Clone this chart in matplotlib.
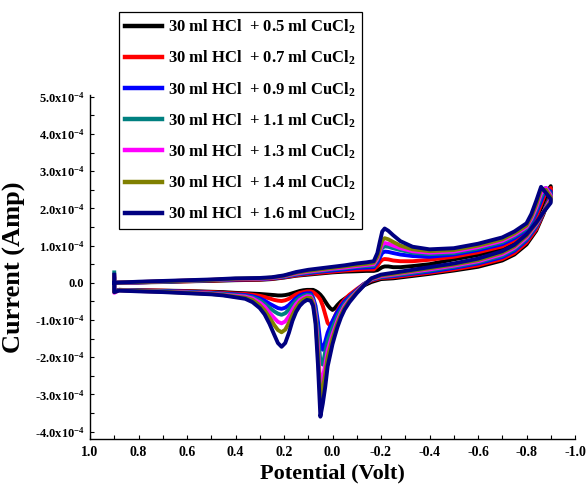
import matplotlib
matplotlib.use("Agg")
import matplotlib.pyplot as plt
from matplotlib.ticker import FixedLocator, MultipleLocator
import numpy as np

plt.rcParams['font.family'] = ['Liberation Serif', 'DejaVu Serif']
plt.rcParams['font.weight'] = 'bold'
plt.rcParams['mathtext.fontset'] = 'custom'
plt.rcParams['mathtext.rm'] = 'Liberation Serif:bold'
plt.rcParams['mathtext.bf'] = 'Liberation Serif:bold'
plt.rcParams['mathtext.it'] = 'Liberation Serif:bold:italic'
plt.rcParams['mathtext.default'] = 'rm'

# ---------------- data (current in units of 1e-4 A) ----------------
volumes = ["0.5", "0.7", "0.9", "1.1", "1.3", "1.4", "1.6"]
colors = ["#000000", "#ff0000", "#0000ff", "#008080", "#ff00ff", "#808000", "#000080"]

# forward (lower) branch potentials, V
E_lower = [0.90, 0.90, 0.88, 0.80, 0.70, 0.60, 0.50, 0.45, 0.40,
           0.36, 0.33, 0.30, 0.28, 0.26, 0.24, 0.225, 0.21, 0.195, 0.18, 0.165, 0.15, 0.135, 0.12, 0.105, 0.09,
           0.08, 0.07, 0.06, 0.05, 0.04, 0.03, 0.02, 0.01, 0.0, -0.01, -0.02, -0.035, -0.05, -0.07, -0.10, -0.13, -0.16, -0.20,
           -0.25, -0.30, -0.40, -0.50, -0.60, -0.70, -0.75, -0.80, -0.84, -0.87, -0.90]

# reverse (upper) branch potentials, V
E_upper = [-0.90, -0.88, -0.86, -0.84, -0.82, -0.80, -0.75, -0.70, -0.60, -0.50,
           -0.40, -0.33, -0.28, -0.25, -0.23, -0.215, -0.205, -0.195, -0.185, -0.17,
           -0.14, -0.10, -0.05, 0.0, 0.05, 0.10, 0.15, 0.20, 0.25, 0.30,
           0.40, 0.50, 0.60, 0.70, 0.80, 0.90]

lower_05 = [0.10, -0.22, -0.19, -0.20, -0.21, -0.22, -0.24, -0.25, -0.27,
            -0.28, -0.29, -0.30, -0.31, -0.32, -0.33, -0.34, -0.34, -0.33, -0.31, -0.28, -0.25, -0.22, -0.20, -0.19, -0.19,
            -0.19, -0.22, -0.26, -0.32, -0.40, -0.50, -0.60, -0.68, -0.73, -0.68, -0.60, -0.50, -0.43, -0.34, -0.20, -0.07, 0.02, 0.10,
            0.12, 0.16, 0.24, 0.33, 0.43, 0.60, 0.76, 1.03, 1.40, 1.85, 2.40]
lower_07 = [0.12, -0.22, -0.19, -0.20, -0.21, -0.23, -0.25, -0.27, -0.29,
            -0.30, -0.32, -0.35, -0.38, -0.42, -0.46, -0.48, -0.49, -0.47, -0.43, -0.37, -0.31, -0.27, -0.25, -0.23, -0.23,
            -0.25, -0.30, -0.36, -0.45, -0.62, -0.85, -1.08, -1.15, -1.05, -0.90, -0.75, -0.58, -0.45, -0.32, -0.17, -0.03, 0.06, 0.13,
            0.15, 0.19, 0.27, 0.36, 0.47, 0.64, 0.80, 1.08, 1.44, 1.88, 2.35]
lower_09 = [0.15, -0.23, -0.19, -0.21, -0.22, -0.24, -0.27, -0.29, -0.31,
            -0.33, -0.36, -0.42, -0.48, -0.56, -0.63, -0.68, -0.70, -0.67, -0.60, -0.50, -0.41, -0.34, -0.30, -0.28, -0.28,
            -0.40, -0.62, -1.05, -1.62, -1.80, -1.58, -1.34, -1.18, -1.03, -0.90, -0.78, -0.63, -0.50, -0.37, -0.20, -0.03, 0.08, 0.15,
            0.18, 0.22, 0.30, 0.40, 0.52, 0.69, 0.86, 1.14, 1.50, 1.90, 2.30]
lower_11 = [0.28, -0.24, -0.20, -0.21, -0.23, -0.25, -0.28, -0.30, -0.33,
            -0.35, -0.39, -0.47, -0.56, -0.67, -0.77, -0.83, -0.86, -0.82, -0.72, -0.59, -0.48, -0.40, -0.35, -0.32, -0.33,
            -0.45, -0.75, -1.35, -2.12, -2.20, -1.85, -1.55, -1.38, -1.20, -1.05, -0.90, -0.72, -0.56, -0.41, -0.22, -0.04, 0.09, 0.16,
            0.20, 0.24, 0.33, 0.43, 0.55, 0.73, 0.90, 1.18, 1.53, 1.90, 2.28]
lower_13 = [0.18, -0.27, -0.20, -0.22, -0.24, -0.26, -0.29, -0.32, -0.35,
            -0.37, -0.42, -0.53, -0.64, -0.80, -0.95, -1.05, -1.09, -1.04, -0.90, -0.72, -0.57, -0.46, -0.40, -0.36, -0.37,
            -0.50, -0.88, -1.70, -2.75, -2.55, -2.20, -1.82, -1.60, -1.38, -1.20, -1.02, -0.80, -0.62, -0.45, -0.24, -0.05, 0.10, 0.18,
            0.22, 0.27, 0.36, 0.46, 0.58, 0.77, 0.94, 1.22, 1.57, 1.90, 2.25]
lower_14 = [0.20, -0.25, -0.20, -0.22, -0.24, -0.27, -0.30, -0.33, -0.37,
            -0.40, -0.46, -0.60, -0.74, -0.93, -1.14, -1.27, -1.33, -1.26, -1.08, -0.86, -0.67, -0.53, -0.45, -0.40, -0.41,
            -0.56, -0.98, -1.90, -3.10, -2.85, -2.45, -2.00, -1.75, -1.50, -1.30, -1.10, -0.86, -0.67, -0.48, -0.26, -0.06, 0.11, 0.20,
            0.24, 0.29, 0.39, 0.49, 0.61, 0.81, 0.98, 1.26, 1.60, 1.90, 2.20]
lower_16 = [0.22, -0.25, -0.21, -0.23, -0.25, -0.28, -0.31, -0.34, -0.39,
            -0.43, -0.52, -0.68, -0.85, -1.10, -1.40, -1.62, -1.72, -1.62, -1.35, -1.02, -0.78, -0.62, -0.52, -0.46, -0.48,
            -0.62, -1.10, -2.20, -3.60, -3.25, -2.80, -2.25, -1.95, -1.65, -1.42, -1.20, -0.93, -0.72, -0.52, -0.28, -0.07, 0.12, 0.22,
            0.27, 0.32, 0.42, 0.52, 0.65, 0.85, 1.02, 1.30, 1.62, 1.90, 2.15]

upper_05 = [2.60, 2.35, 2.00, 1.70, 1.45, 1.30, 1.08, 0.92, 0.75, 0.63,
            0.50, 0.45, 0.42, 0.42, 0.44, 0.44, 0.42, 0.38, 0.34, 0.32,
            0.32, 0.31, 0.30, 0.28, 0.25, 0.22, 0.19, 0.14, 0.10, 0.08,
            0.07, 0.05, 0.04, 0.02, 0.01, 0.00]
upper_07 = [2.55, 2.45, 2.10, 1.78, 1.52, 1.36, 1.14, 0.98, 0.82, 0.70,
            0.62, 0.58, 0.58, 0.60, 0.63, 0.64, 0.62, 0.55, 0.45, 0.36,
            0.36, 0.35, 0.33, 0.30, 0.27, 0.24, 0.20, 0.15, 0.11, 0.09,
            0.08, 0.06, 0.04, 0.03, 0.01, 0.00]
upper_09 = [2.45, 2.55, 2.20, 1.88, 1.60, 1.42, 1.20, 1.04, 0.88, 0.76,
            0.70, 0.72, 0.76, 0.80, 0.83, 0.84, 0.80, 0.68, 0.55, 0.42,
            0.41, 0.40, 0.36, 0.33, 0.30, 0.26, 0.22, 0.16, 0.12, 0.10,
            0.09, 0.07, 0.05, 0.03, 0.01, 0.00]
upper_11 = [2.40, 2.55, 2.30, 1.95, 1.66, 1.46, 1.25, 1.09, 0.92, 0.80,
            0.77, 0.81, 0.88, 0.93, 0.97, 0.98, 0.94, 0.79, 0.61, 0.46,
            0.45, 0.43, 0.39, 0.36, 0.32, 0.28, 0.23, 0.17, 0.13, 0.11,
            0.10, 0.07, 0.05, 0.03, 0.02, 0.00]
upper_13 = [2.35, 2.55, 2.40, 2.02, 1.72, 1.50, 1.29, 1.13, 0.96, 0.84,
            0.81, 0.85, 0.93, 1.00, 1.05, 1.07, 1.02, 0.85, 0.65, 0.50,
            0.48, 0.45, 0.41, 0.38, 0.34, 0.30, 0.25, 0.18, 0.13, 0.11,
            0.10, 0.08, 0.06, 0.04, 0.02, 0.00]
upper_14 = [2.30, 2.50, 2.50, 2.10, 1.78, 1.54, 1.33, 1.17, 1.00, 0.88,
            0.85, 0.90, 1.00, 1.10, 1.17, 1.20, 1.14, 0.92, 0.70, 0.54,
            0.51, 0.48, 0.44, 0.40, 0.36, 0.32, 0.27, 0.19, 0.14, 0.12,
            0.11, 0.08, 0.06, 0.04, 0.02, 0.00]
upper_16 = [2.25, 2.42, 2.58, 2.20, 1.85, 1.60, 1.38, 1.22, 1.05, 0.93,
            0.90, 0.97, 1.12, 1.28, 1.40, 1.46, 1.38, 1.10, 0.80, 0.58,
            0.55, 0.52, 0.47, 0.43, 0.39, 0.35, 0.29, 0.20, 0.15, 0.13,
            0.12, 0.09, 0.07, 0.05, 0.03, 0.00]

lowers = [lower_05, lower_07, lower_09, lower_11, lower_13, lower_14, lower_16]
uppers = [upper_05, upper_07, upper_09, upper_11, upper_13, upper_14, upper_16]

xtick_values = [1.0, 0.8, 0.6, 0.4, 0.2, 0.0, -0.2, -0.4, -0.6, -0.8, -1.0]
xtick_labels = ["1.0", "0.8", "0.6", "0.4", "0.2", "0.0", "-0.2", "-0.4", "-0.6", "-0.8", "-1.0"]
ytick_values = [-4e-4, -3e-4, -2e-4, -1e-4, 0.0, 1e-4, 2e-4, 3e-4, 4e-4, 5e-4]
ytick_labels = ["-4.0x10$^{-4}$", "-3.0x10$^{-4}$", "-2.0x10$^{-4}$", "-1.0x10$^{-4}$", "0.0",
                "1.0x10$^{-4}$", "2.0x10$^{-4}$", "3.0x10$^{-4}$", "4.0x10$^{-4}$", "5.0x10$^{-4}$"]

# ---------------- figure ----------------
fig = plt.figure(figsize=(5.86, 4.95), dpi=100)
ax = fig.add_axes([90 / 586, 56 / 495, 485 / 586, 344 / 495])

for vol, col, lo, up in zip(volumes, colors, lowers, uppers):
    E = np.array(E_lower + E_upper)
    I = np.array(lo + up) * 1e-4
    ax.plot(E, I, color=col, lw=2.8, solid_joinstyle='round',
            label="30 ml HCl  + " + vol + " ml CuCl$_2$")

ax.set_xlim(1.0, -1.0)
ax.set_ylim(-4.2e-4, 5.05e-4)

ax.xaxis.set_major_locator(FixedLocator(xtick_values))
ax.set_xticklabels(xtick_labels)
ax.xaxis.set_minor_locator(MultipleLocator(0.1))
ax.yaxis.set_major_locator(FixedLocator(ytick_values))
ax.set_yticklabels(ytick_labels)
ax.yaxis.set_minor_locator(MultipleLocator(0.5e-4))

ax.tick_params(which='both', direction='in', length=3, width=0.8)
ax.tick_params(axis='x', labelsize=10, pad=5)
ax.tick_params(axis='y', labelsize=9, pad=4)
for lab in ax.get_xticklabels() + ax.get_yticklabels():
    lab.set_fontweight('bold')

for s in ['top', 'right']:
    ax.spines[s].set_visible(False)
for s in ['left', 'bottom']:
    ax.spines[s].set_linewidth(1.0)

ax.set_xlabel("Potential (Volt)", fontsize=16, fontweight='bold', labelpad=3)
ax.set_ylabel("Current (Amp)", fontsize=19, fontweight='bold', labelpad=6)

leg = ax.legend(loc='upper left', bbox_to_anchor=(119 / 586, 1 - 12 / 495),
                bbox_transform=fig.transFigure, borderaxespad=0,
                fontsize=12, frameon=True, fancybox=False, framealpha=1,
                edgecolor='black', handlelength=2.2, handletextpad=0.38,
                labelspacing=0.76, borderpad=0.36)
leg.get_frame().set_linewidth(0.9)
for t in leg.get_texts():
    t.set_fontweight('bold')
for h in leg.get_lines():
    h.set_linewidth(3.2)

fig.savefig("out.png", dpi=100)
